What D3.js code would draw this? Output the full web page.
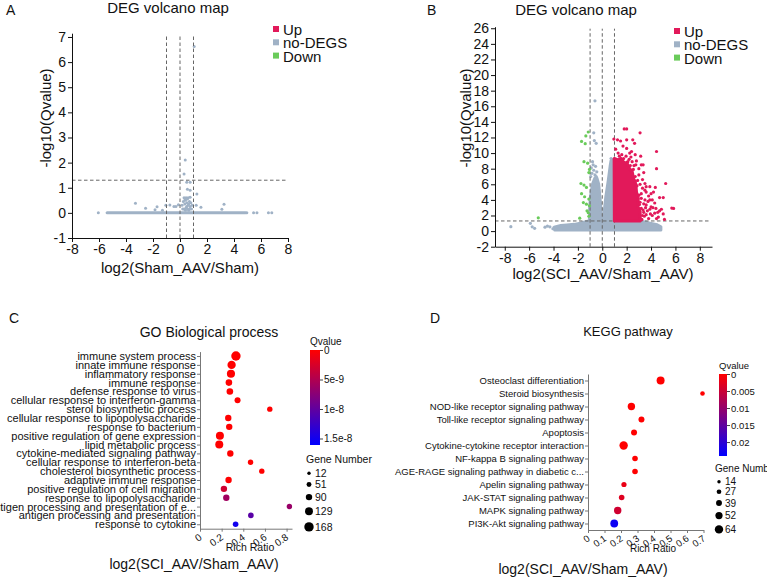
<!DOCTYPE html>
<html lang="en">
<head>
<meta charset="UTF-8">
<title>DEG volcano maps, GO and KEGG enrichment</title>
<script src="https://cdn.jsdelivr.net/npm/d3@7"></script>
<style>
body { margin: 0; background: #fff; }
svg { display: block; font-family: "Liberation Sans", Arial, sans-serif; }
</style>
</head>
<body>
<div id="chart"></div>
<script>
const FONT = "Liberation Sans, Arial, sans-serif";
const GREY = "#a0b2c6";
const UP = "#e2195a";
const DOWN = "#6acb5a";

// thresholds drawn as dashed guides
const foldCut = [-1, 0, 1];
const qCut = 1.3;
const legendNames = ["Up", "no-DEGS", "Down"];

// ---- A: Sham_AAV vs Sham (no DEGs at all)
const aTicksX = [-8, -6, -4, -2, 0, 2, 4, 6, 8];
const aTicksY = [-1, 0, 1, 2, 3, 4, 5, 6, 7];
// unbroken run of genes lying on -log10(q) = 0
const aBaseRun = [-5.4, 4.85];
const aGenes = [
    [-6.05, 0], [4.95, 0], [5.45, 0], [5.7, 0], [6.55, 0], [6.8, 0],
    [-3.3, 0.38], [-2.55, 0.18], [-1.85, 0.12], [-1.7, 0.24], [-1.3, 0.1], [-1.05, 0.3],
    [-0.75, 0.31], [-0.45, 0.25], [-0.3, 0.25], [-0.12, 0.32],
    [1.2, 0.3], [1.55, 0.22], [3.1, 0.14], [3.26, 0.34],
    [0.39, 2.1], [0.3, 1.55], [0.5, 1.22], [0.75, 1.22], [0.55, 0.94], [0.75, 0.9],
    [1.25, 0.75], [0.75, 0.62], [0.37, 0.55], [1.05, 6.62],
    [0.15, 0.3], [0.25, 0.45], [0.3, 0.15], [0.35, 0.35], [0.4, 0.5], [0.45, 0.2],
    [0.5, 0.4], [0.55, 0.55], [0.6, 0.3], [0.65, 0.1], [0.7, 0.45], [0.75, 0.25],
    [0.8, 0.4], [0.85, 0.15], [0.45, 0.6], [0.6, 0.6], [0.3, 0.6], [0.9, 0.3],
    [0.2, 0.15], [0.55, 0.15], [0.4, 0.1], [0.7, 0.15], [0.5, 0.25], [0.65, 0.35]
];

// ---- B: SCI_AAV vs Sham_AAV
const bTicksX = [-8, -6, -4, -2, 0, 2, 4, 6, 8];
const bTicksY = [-2, 0, 2, 4, 6, 8, 10, 12, 14, 16, 18, 20, 22, 24, 26];
// outlines of the solid, overplotted parts of the cloud
const bGreyBlobs = [
    [[-3.9, 0.15], [-3.95, 0.5], [-3.4, 0.7], [-2.9, 0.78], [-2.3, 0.85], [-1.8, 1.0],
     [-1.2, 1.25], [1.2, 1.25], [3.2, 1.25], [3.9, 1.0], [4.5, 0.8], [4.8, 0.55], [4.8, 0.15]],
    [[-1.05, 1.2], [-1.03, 3.0], [-0.95, 4.5], [-0.8, 6.0], [-0.6, 6.8], [-0.45, 6.8],
     [-0.3, 6.0], [-0.18, 4.0], [-0.1, 2.5], [0.0, 1.2]],
    [[0.1, 1.2], [0.15, 2.3], [0.3, 4.4], [0.5, 6.5], [0.65, 8.3], [0.72, 9.0],
     [0.95, 9.2], [0.95, 1.2]]
];
const bGreyGenes = [
    [-0.6, 16.7], [-0.7, 12.6], [-0.65, 11.6], [-0.5, 11.25], [0.72, 9.3],
    [-7.5, 0.57], [-5.9, 1.0], [-5.75, 0.55], [-5.55, 0.35], [-4.7, 0.5], [-4.5, 0.65],
    [-4.3, 0.55], [-4.05, 0.3], [4.55, 0.35], [4.7, 0.4],
    [-0.85, 7.4], [-0.7, 7.8], [-0.55, 8.3], [-0.8, 8.9], [-0.6, 7.2], [-0.45, 7.6],
    [-0.9, 8.1], [-0.75, 8.5], [-0.95, 7.0], [-0.5, 7.0]
];
const bUpBlob = [[1.0, 1.3], [0.98, 9.3], [1.3, 9.1], [1.55, 9.3], [1.8, 8.7], [2.0, 8.8],
    [2.2, 8.1], [2.45, 7.6], [2.55, 6.8], [2.75, 6.0], [2.8, 5.0], [2.95, 4.2], [2.9, 3.2],
    [3.1, 2.5], [3.1, 1.3]];
const bUpGenes = [
    [1.8, 13.1], [2.0, 13.1], [3.1, 12.6], [0.95, 11.8], [1.25, 11.7], [1.5, 11.55],
    [2.0, 11.7], [2.5, 11.7], [2.65, 11.25], [1.7, 10.9], [2.0, 10.6], [2.4, 10.2],
    [2.25, 10.0], [3.15, 9.6], [4.45, 10.2], [4.45, 8.0], [3.2, 8.5], [3.35, 8.5],
    [5.2, 6.1], [3.6, 5.7], [3.9, 5.7], [4.35, 5.6], [4.0, 4.8], [4.2, 5.0], [4.7, 4.3],
    [5.0, 4.3], [5.7, 2.95], [5.85, 2.9], [3.5, 4.0], [3.9, 4.0], [3.6, 3.35], [4.0, 3.1],
    [4.15, 3.0], [4.4, 2.9], [3.9, 2.8], [4.85, 2.8], [5.1, 1.5], [5.0, 2.2], [4.45, 1.6],
    [4.6, 1.8], [3.8, 1.6], [4.1, 2.0], [3.6, 2.1], [3.35, 2.7], [3.3, 2.0], [3.1, 1.6],
    [3.5, 5.25], [3.6, 5.0], [3.2, 4.8], [3.4, 3.5], [2.9, 4.0], [3.1, 3.7],
    [2.8, 9.0], [2.6, 8.4], [3.0, 7.2], [2.9, 6.5], [3.1, 6.0], [3.3, 5.5], [3.2, 4.2],
    [3.4, 2.4], [3.7, 2.6], [2.7, 9.8], [2.2, 9.2], [1.3, 10.0], [1.1, 10.5], [3.0, 8.0],
    [2.7, 7.0], [1.6, 9.8], [2.45, 8.9],
    [1.4, 9.6], [1.75, 9.3], [2.1, 8.9], [2.3, 8.4], [2.55, 7.9], [2.7, 6.4], [2.85, 5.8],
    [3.0, 4.6], [3.05, 3.4], [3.2, 2.9], [3.25, 1.5], [3.45, 1.9], [3.55, 3.0], [3.75, 3.8],
    [3.8, 4.5], [4.1, 4.0], [4.3, 3.6], [4.55, 2.4], [4.3, 2.3], [3.95, 2.2], [4.7, 2.6],
    [2.35, 9.5], [1.95, 9.6], [3.3, 6.6], [3.5, 6.1], [2.75, 8.5], [3.4, 7.5]
];
const bDownGenes = [
    [-1.15, 12.7], [-1.35, 12.2], [-1.7, 11.5], [-1.4, 11.2], [-1.5, 8.9], [-1.2, 8.7],
    [-1.05, 7.9], [-1.1, 7.5], [-1.75, 6.1], [-1.5, 5.9], [-1.3, 5.6], [-1.7, 4.8],
    [-1.45, 4.4], [-1.1, 4.1], [-1.55, 3.65], [-1.3, 3.45], [-1.05, 3.25], [-1.25, 2.6],
    [-1.15, 2.35], [-1.85, 1.65], [-1.1, 1.9], [-5.25, 1.7]
];

// ---- C: GO biological process
const cTerms = [
    "immune system process", "innate immune response", "inflammatory response",
    "immune response", "defense response to virus", "cellular response to interferon-gamma",
    "sterol biosynthetic process", "cellular response to lipopolysaccharide",
    "response to bacterium", "positive regulation of gene expression",
    "lipid metabolic process", "cytokine-mediated signaling pathway",
    "cellular response to interferon-beta", "cholesterol biosynthetic process",
    "adaptive immune response", "positive regulation of cell migration",
    "response to lipopolysaccharide", "antigen processing and presentation of e...",
    "antigen processing and presentation", "response to cytokine"
];
const cRich = [0.332, 0.292, 0.286, 0.267, 0.276, 0.347, 0.645, 0.261, 0.27, 0.184,
    0.178, 0.28, 0.467, 0.571, 0.264, 0.221, 0.243, 0.826, 0.47, 0.329];
const cGenes = [168, 140, 135, 95, 95, 80, 64, 90, 90, 132, 132, 90, 64, 64, 90, 90, 90, 64, 69, 69];
const cQ = [0, 0, 0, 0, 0, 0, 0, 0, 0, 0, 0, 0, 0, 0, 0, 3e-9, 6e-9, 6.5e-9, 1.05e-8, 1.5e-8];
const cRichTicks = [0, 0.2, 0.4, 0.6, 0.8];
const cQTicks = [0, 5e-9, 1e-8, 1.5e-8];
const cQLabels = ["0", "5e-9", "1e-8", "1.5e-8"];
const cGeneTicks = [12, 51, 90, 129, 168];

// ---- D: KEGG pathway
const dTerms = [
    "Osteoclast differentiation", "Steroid biosynthesis", "NOD-like receptor signaling pathway",
    "Toll-like receptor signaling pathway", "Apoptosis", "Cytokine-cytokine receptor interaction",
    "NF-kappa B signaling pathway", "AGE-RAGE signaling pathway in diabetic c...",
    "Apelin signaling pathway", "JAK-STAT signaling pathway", "MAPK signaling pathway",
    "PI3K-Akt signaling pathway"
];
const dRich = [0.44, 0.694, 0.263, 0.324, 0.279, 0.216, 0.285, 0.285, 0.218, 0.204, 0.18, 0.159];
const dGenes = [60, 26, 54, 40, 40, 64, 36, 36, 32, 36, 54, 58];
const dQ = [0, 0, 0, 0, 0, 0, 0, 0, 0.002, 0.003, 0.0045, 0.023];
const dRichTicks = [0, 0.1, 0.2, 0.3, 0.4, 0.5, 0.6, 0.7];
const dQTicks = [0, 0.005, 0.01, 0.015, 0.02];
const dQLabels = ["0", "0.005", "0.01", "0.015", "0.02"];
const dGeneTicks = [14, 27, 39, 52, 64];

const svg = d3.select("#chart").append("svg")
    .attr("width", 767).attr("height", 580);
svg.append("rect").attr("width", 767).attr("height", 580).attr("fill", "#fff");

function addText(g, str, x, y, size, anchor) {
    return g.append("text").attr("x", x).attr("y", y)
        .attr("font-size", size).attr("text-anchor", anchor || "start")
        .attr("fill", "#111").text(str);
}

function styleAxis(sel, size, color) {
    sel.attr("font-family", FONT).attr("font-size", size);
    sel.selectAll("path, line").attr("stroke", color);
    sel.selectAll("text").attr("fill", "#111");
}

function drawVolcano(p) {
    const g = svg.append("g");
    const x = d3.scaleLinear(p.xDomain, p.xRange);
    const y = d3.scaleLinear(p.yDomain, p.yRange);
    const shape = d3.line().x(d => x(d[0])).y(d => y(d[1])).curve(d3.curveLinearClosed);
    const dot = (data, color) => g.append("g").selectAll("circle").data(data).join("circle")
        .attr("cx", d => x(d[0])).attr("cy", d => y(d[1])).attr("r", p.r).attr("fill", color);

    if (p.baseRun) {
        g.append("line")
            .attr("x1", x(p.baseRun[0])).attr("x2", x(p.baseRun[1]))
            .attr("y1", y(0)).attr("y2", y(0))
            .attr("stroke", GREY).attr("stroke-width", p.r * 2).attr("stroke-linecap", "round");
    }
    (p.greyBlobs || []).forEach(b => g.append("path").attr("d", shape(b))
        .attr("fill", GREY).attr("stroke", GREY).attr("stroke-width", p.r * 2)
        .attr("stroke-linejoin", "round"));
    dot(p.grey, GREY);

    // dashed guides
    const top = y.range()[1] + 2;
    g.selectAll(".vcut").data(foldCut).join("line")
        .attr("x1", d => x(d)).attr("x2", d => x(d))
        .attr("y1", y.range()[0]).attr("y2", top)
        .attr("stroke", "#666").attr("stroke-dasharray", "3.5,2.5");
    g.append("line")
        .attr("x1", x.range()[0]).attr("x2", x.range()[1] - 2)
        .attr("y1", y(qCut)).attr("y2", y(qCut))
        .attr("stroke", "#666").attr("stroke-dasharray", "3.5,2.5");

    if (p.upBlob) {
        g.append("path").attr("d", shape(p.upBlob))
            .attr("fill", UP).attr("stroke", UP).attr("stroke-width", p.r * 2)
            .attr("stroke-linejoin", "round");
    }
    dot(p.up || [], UP);
    dot(p.down || [], DOWN);

    const fmt = d => String(d);
    g.append("g").attr("transform", `translate(0,${y.range()[0]})`)
        .call(d3.axisBottom(x).tickValues(p.xTicks).tickFormat(fmt)
            .tickSize(4).tickSizeOuter(0).tickPadding(2))
        .call(s => styleAxis(s, 14, "#111"));
    g.append("g").attr("transform", `translate(${x.range()[0]},0)`)
        .call(d3.axisLeft(y).tickValues(p.yTicks).tickFormat(fmt)
            .tickSize(4).tickSizeOuter(0).tickPadding(2))
        .call(s => styleAxis(s, 14, "#111"));

    addText(g, "DEG volcano map", p.titleX, p.titleY, 15, "middle");
    addText(g, p.letter, p.letterX, 15, 14);
    addText(g, p.xLabel, p.xLabelX, p.xLabelY, 15, "middle");
    g.append("text").attr("transform", `translate(${p.yLabelX},118) rotate(-90)`)
        .attr("text-anchor", "middle").attr("font-size", 15).attr("fill", "#111")
        .text("-log10(Qvalue)");

    const lg = g.append("g").selectAll("g").data(legendNames).join("g")
        .attr("transform", (d, i) => `translate(${p.legendX},${p.legendY + i * 13.3})`);
    lg.append("rect").attr("x", 0).attr("y", -9).attr("width", 6).attr("height", 6)
        .attr("fill", (d, i) => [UP, GREY, DOWN][i]);
    lg.append("text").attr("x", 10).attr("y", 0).attr("font-size", 15)
        .attr("fill", "#111").text(d => d);
}

drawVolcano({
    letter: "A", letterX: 6,
    xDomain: [-8, 8], xRange: [72, 288],
    yDomain: [-1, 7.15], yRange: [238, 33.2],
    xTicks: aTicksX, yTicks: aTicksY, r: 1.5,
    baseRun: aBaseRun, grey: aGenes,
    titleX: 168, titleY: 13,
    xLabel: "log2(Sham_AAV/Sham)", xLabelX: 180, xLabelY: 273, yLabelX: 51,
    legendX: 273, legendY: 35
});

drawVolcano({
    letter: "B", letterX: 427,
    xDomain: [-8.8, 9.0], xRange: [495, 712],
    yDomain: [-2, 26.2], yRange: [246.7, 26.7],
    xTicks: bTicksX, yTicks: bTicksY, r: 1.6,
    greyBlobs: bGreyBlobs, grey: bGreyGenes,
    upBlob: bUpBlob, up: bUpGenes, down: bDownGenes,
    titleX: 576, titleY: 15,
    xLabel: "log2(SCI_AAV/Sham_AAV)", xLabelX: 603, xLabelY: 279, yLabelX: 471,
    legendX: 674, legendY: 37
});

function drawBubbles(p) {
    const g = svg.append("g");
    const x = d3.scaleLinear(p.xDomain, p.xRange);
    const y = d3.scalePoint(p.terms, p.yRange).padding(0.5);
    const color = d3.scaleLinear(p.qDomain, ["#ff0000", "#0000ff"]).interpolate(d3.interpolateRgb);
    const radius = d3.scaleLinear(p.geneDomain, p.rRange);
    const rows = p.terms.map((t, i) => ({ t, rich: p.rich[i], genes: p.genes[i], q: p.q[i] }));

    // y axis with term names
    g.append("g").attr("transform", `translate(${p.xRange[0]},0)`)
        .call(d3.axisLeft(y).tickSize(3).tickSizeOuter(0).tickPadding(1))
        .call(s => styleAxis(s, p.termSize, "#777"));

    // x axis, tilted labels
    const xa = g.append("g").attr("transform", `translate(0,${p.yRange[1]})`)
        .call(d3.axisBottom(x).tickValues(p.richTicks).tickFormat(d => String(d))
            .tickSize(3).tickSizeOuter(0))
        .call(s => styleAxis(s, p.tickSize, "#777"));
    xa.selectAll("text").attr("x", 0).attr("y", 0).attr("dy", 0)
        .attr("text-anchor", "end").attr("transform", "translate(2,10) rotate(-35)");

    g.append("g").selectAll("circle").data(rows).join("circle")
        .attr("cx", d => x(d.rich)).attr("cy", d => y(d.t))
        .attr("r", d => radius(d.genes)).attr("fill", d => color(d.q));

    addText(g, p.letter, p.letterX, 323, 14);
    addText(g, p.title, p.titleX, p.titleY, p.titleSize, "middle");
    addText(g, "Rich Ratio", p.richLabelX, p.richLabelY, p.tickSize + 0.5, "middle");
    addText(g, "log2(SCI_AAV/Sham_AAV)", p.bigLabelX, p.bigLabelY, 14, "middle");

    // colour bar
    const gradId = "grad" + p.letter;
    const grad = svg.append("defs").append("linearGradient").attr("id", gradId)
        .attr("x1", 0).attr("x2", 0).attr("y1", 0).attr("y2", 1);
    grad.selectAll("stop").data(d3.range(0, 1.01, 0.1)).join("stop")
        .attr("offset", d => d)
        .attr("stop-color", d => color(p.qDomain[0] + d * (p.qDomain[1] - p.qDomain[0])));
    const q = d3.scaleLinear(p.qDomain, p.barY);
    g.append("rect").attr("x", p.barX).attr("y", p.barY[0])
        .attr("width", p.barW).attr("height", p.barY[1] - p.barY[0])
        .attr("fill", `url(#${gradId})`);
    g.append("g").attr("transform", `translate(${p.barX + p.barW},0)`)
        .call(d3.axisRight(q).tickValues(p.qTicks).tickFormat((d, i) => p.qLabels[i])
            .tickSize(3).tickSizeOuter(0).tickPadding(1))
        .call(s => styleAxis(s, p.tickSize, "#444"))
        .call(s => s.select(".domain").remove());
    addText(g, "Qvalue", p.barX, p.barY[0] - 5, p.tickSize);

    // gene number legend
    addText(g, "Gene Number", p.geneTitleX, p.geneTitleY, p.tickSize + 0.5);
    let cy = p.geneStartY;
    const keys = p.geneTicks.map((v, i) => {
        if (i > 0) cy += radius(p.geneTicks[i - 1]) + radius(v) + p.geneGap;
        return { v, cy };
    });
    const kg = g.append("g").selectAll("g").data(keys).join("g")
        .attr("transform", d => `translate(${p.geneX},${d.cy})`);
    kg.append("circle").attr("r", d => radius(d.v)).attr("fill", "#000");
    kg.append("text").attr("x", 6).attr("dy", "0.35em").attr("font-size", p.tickSize + 0.5)
        .attr("fill", "#111").text(d => d.v);
}

drawBubbles({
    letter: "C", letterX: 9, title: "GO Biological process", titleX: 209, titleY: 337, titleSize: 14,
    terms: cTerms, rich: cRich, genes: cGenes, q: cQ,
    xDomain: [0, 0.85], xRange: [200, 292], yRange: [351.6, 528.7],
    richTicks: cRichTicks, termSize: 11, tickSize: 10,
    qDomain: [0, 1.61e-8], qTicks: cQTicks, qLabels: cQLabels,
    geneDomain: [12, 168], rRange: [1.7, 4.7], geneTicks: cGeneTicks,
    richLabelX: 250, richLabelY: 551, bigLabelX: 194, bigLabelY: 569,
    barX: 310, barW: 10, barY: [350, 445],
    geneTitleX: 306, geneTitleY: 463, geneX: 309, geneStartY: 473.3, geneGap: 7
});

drawBubbles({
    letter: "D", letterX: 430, title: "KEGG pathway", titleX: 628, titleY: 336, titleSize: 13,
    terms: dTerms, rich: dRich, genes: dGenes, q: dQ,
    xDomain: [0, 0.7], xRange: [588, 703.5], yRange: [374, 530],
    richTicks: dRichTicks, termSize: 9.5, tickSize: 9.5,
    qDomain: [0, 0.0241], qTicks: dQTicks, qLabels: dQLabels,
    geneDomain: [14, 64], rRange: [1.7, 4.2], geneTicks: dGeneTicks,
    richLabelX: 653, richLabelY: 552, bigLabelX: 583, bigLabelY: 574,
    barX: 719, barW: 8, barY: [374, 456],
    geneTitleX: 715, geneTitleY: 471.7, geneX: 719, geneStartY: 481.7, geneGap: 6
});
</script>
</body>
</html>
